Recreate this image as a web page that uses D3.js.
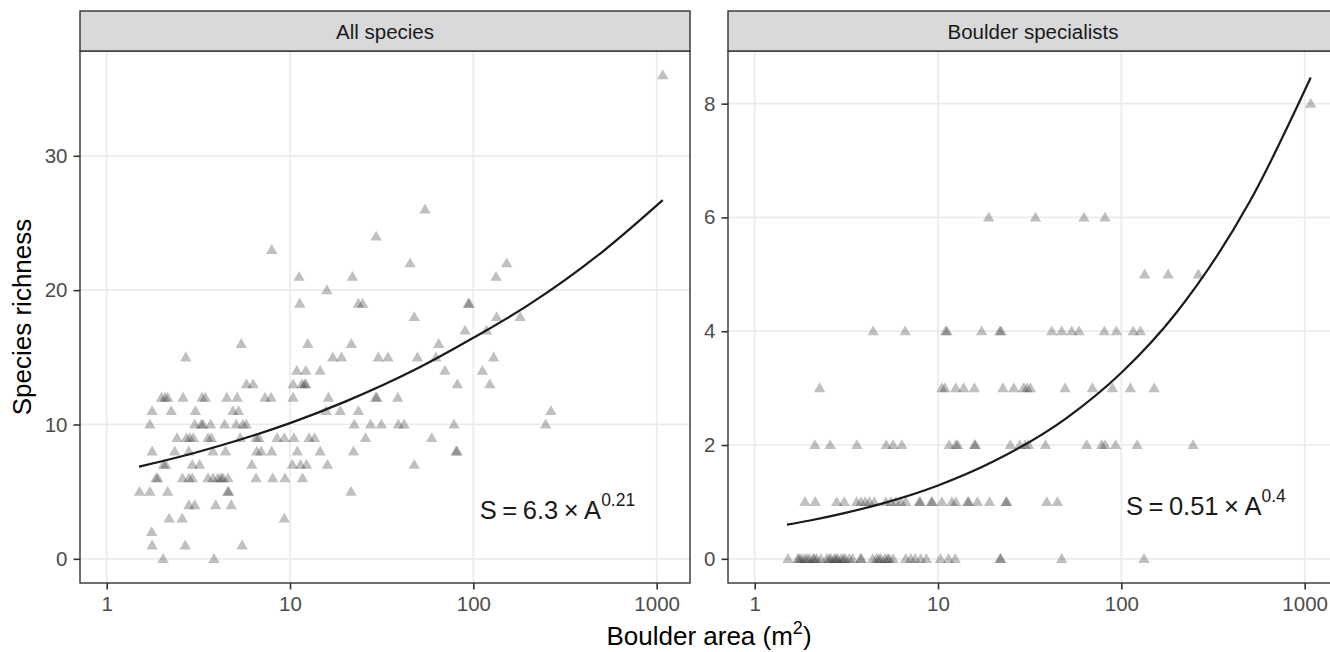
<!DOCTYPE html>
<html>
<head>
<meta charset="utf-8">
<script src="https://cdn.jsdelivr.net/npm/d3@7"></script>
<style>
  html, body { margin: 0; padding: 0; background: #fff; }
  svg { display: block; font-family: "Liberation Sans", Arial, Helvetica, sans-serif; }
</style>
</head>
<body>
<svg id="chart" width="1330" height="652"></svg>
<script>
// ---------------- data ----------------
const panelTitles = ["All species", "Boulder specialists"];
const xTickValues = [1, 10, 100, 1000];
const yTicksAll = [0, 10, 20, 30];
const yTicksSpec = [0, 2, 4, 6, 8];

// [boulder area m2, species richness]
const allSpecies = [
  [1079,36],[54.5,26],[29.5,24],[7.95,23],
  [45.2,22],[152,22],
  [11.2,21],[21.9,21],[133,21],
  [15.9,20],
  [11.3,19],[23.6,19],[24.9,19],[93.9,19],[95,19],
  [47.6,18],[134,18],[180,18],
  [90.1,17],[118,17],
  [5.42,16],[12.5,16],[21.6,16],[64.7,16],
  [2.70,15],[17.1,15],[19.1,15],[30.3,15],[34.2,15],[49.6,15],[62.5,15],[129,15],
  [10.9,14],[12.2,14],[14.6,14],[70.0,14],[112,14],
  [5.79,13],[6.29,13],[10.4,13],[11.6,13],[12.0,13],[12.2,13],[81.8,13],[123,13],
  [1.99,12],[2.08,12],[2.15,12],[2.61,12],[3.31,12],[3.45,12],[4.52,12],[5.15,12],[7.31,12],[7.88,12],[10.4,12],[16.2,12],[29.3,12],[29.8,12],[38.7,12],
  [1.77,11],[2.25,11],[3.05,11],[4.88,11],[5.24,11],[15.7,11],[18.8,11],[23.6,11],[265,11],
  [1.72,10],[3.02,10],[3.28,10],[3.35,10],[3.69,10],[4.40,10],[5.09,10],[5.53,10],[5.77,10],[22.4,10],[27.5,10],[31.5,10],[39.0,10],[41.9,10],[78.5,10],[248,10],
  [2.42,9],[2.72,9],[2.84,9],[2.97,9],[3.57,9],[3.72,9],[5.35,9],[6.53,9],[6.76,9],[8.50,9],[9.31,9],[10.5,9],[12.7,9],[13.6,9],[25.8,9],[59.3,9],
  [1.77,8],[2.35,8],[2.80,8],[3.80,8],[4.45,8],[6.59,8],[6.96,8],[7.95,8],[10.96,8],[14.6,8],[22.2,8],[80.5,8],[81.5,8],
  [2.04,7],[2.10,7],[2.93,7],[3.21,7],[6.19,7],[10.3,7],[11.4,7],[12.3,7],[16.0,7],[47.6,7],
  [1.86,6],[1.90,6],[2.59,6],[2.81,6],[2.93,6],[3.57,6],[3.80,6],[4.04,6],[4.20,6],[4.31,6],[4.58,6],[6.53,6],[8.05,6],[9.39,6],[11.7,6],
  [1.51,5],[1.72,5],[2.15,5],[4.58,5],[4.62,5],[21.5,5],
  [2.81,4],[3.02,4],[3.93,4],[4.78,4],
  [2.19,3],[2.58,3],[9.31,3],
  [1.76,2],
  [1.77,1],[2.68,1],[5.48,1],
  [2.03,0],[3.85,0]
];

const boulderSpecialists = [
  [1079,8],
  [18.9,6],[34.0,6],[62.5,6],[81.5,6],
  [134,5],[180,5],[263,5],
  [4.43,4],[6.62,4],[11.0,4],[11.2,4],[17.3,4],[21.7,4],[22.1,4],[41.7,4],[47.3,4],[53.6,4],[58.8,4],[80.8,4],[93.9,4],[116,4],[127,4],
  [2.26,3],[10.5,3],[10.9,3],[12.5,3],[13.8,3],[15.8,3],[22.6,3],[25.9,3],[29.3,3],[30.6,3],[31.9,3],[49.3,3],[69.5,3],[89.3,3],[112,3],[151,3],
  [2.13,2],[2.58,2],[3.61,2],[5.22,2],[5.69,2],[6.35,2],[11.5,2],[12.5,2],[12.8,2],[15.8,2],[16.0,2],[24.8,2],[27.9,2],[29.9,2],[31.2,2],[38.6,2],[64.7,2],[78.1,2],[81.5,2],[93.1,2],[122,2],[246,2],
  [1.88,1],[2.14,1],[2.80,1],[3.08,1],[3.60,1],[3.80,1],[4.01,1],[4.22,1],[4.49,1],[5.20,1],[5.53,1],[5.89,1],[6.27,1],[6.67,1],[7.9,1],[8.0,1],[9.2,1],[9.3,1],[10.5,1],[11.9,1],[12.5,1],[14.5,1],[14.7,1],[16.4,1],[19.1,1],[23.5,1],[23.7,1],[39.2,1],[44.8,1],
  [1.52,0],[1.72,0],[1.75,0],[1.80,0],[1.87,0],[1.93,0],[1.99,0],[2.08,0],[2.12,0],[2.18,0],[2.30,0],[2.47,0],[2.55,0],[2.61,0],[2.72,0],[2.78,0],[2.84,0],[2.96,0],[3.05,0],[3.12,0],[3.28,0],[3.42,0],[3.78,0],[3.82,0],[4.40,0],[4.62,0],[4.75,0],[4.88,0],[5.13,0],[5.30,0],[5.42,0],[5.69,0],[6.67,0],[7.10,0],[7.50,0],[8.05,0],[8.64,0],[10.3,0],[11.4,0],[12.4,0],[21.8,0],[22.0,0],[47.3,0],[133,0]
];

// fitted curves
const curveArea = [1.5, 2, 3, 5, 10, 20, 50, 100, 200, 500, 1079];
const curveAll  = [6.86, 7.26, 7.88, 8.75, 10.1, 11.7, 14.2, 16.45, 18.9, 22.8, 26.7];
const curveSpec = [0.60, 0.673, 0.794, 0.975, 1.29, 1.71, 2.47, 3.27, 4.33, 6.27, 8.46];

const eqAll  = { coef: "6.3",  exp: "0.21" };
const eqSpec = { coef: "0.51", exp: "0.4" };

// ---------------- layout ----------------
const svg = d3.select("#chart");
svg.append("rect").attr("width", 1330).attr("height", 652).attr("fill", "#fff");

const stripTop = 11, panelTop = 51, panelBottom = 583;
const panels = [
  { title: panelTitles[0], data: allSpecies, curve: curveAll, yTicks: yTicksAll,
    yDomain: [-1.8, 37.8], x0: 80, x1: 690, eq: eqAll, eqX: 108.5, eqY: 2.95 },
  { title: panelTitles[1], data: boulderSpecialists, curve: curveSpec, yTicks: yTicksSpec,
    yDomain: [-0.425, 8.925], x0: 728, x1: 1338, eq: eqSpec, eqX: 106, eqY: 0.77 }
];

const xLogMin = -0.1456, xLogMax = 3.1818;
const tickColor = "#333333", labelColor = "#4D4D4D";
const tickFont = 20.5, titleFont = 26, eqFont = 25.5;
const tri = d3.symbol().type(d3.symbolTriangle).size(56);

panels.forEach(p => {
  const x = d3.scaleLog().domain([Math.pow(10, xLogMin), Math.pow(10, xLogMax)]).range([p.x0, p.x1]);
  const y = d3.scaleLinear().domain(p.yDomain).range([panelBottom, panelTop]);
  const g = svg.append("g");

  // panel background + grid
  g.append("rect").attr("x", p.x0).attr("y", panelTop).attr("width", p.x1 - p.x0)
    .attr("height", panelBottom - panelTop).attr("fill", "#fff");
  g.selectAll(".gx").data(xTickValues).enter().append("line")
    .attr("x1", d => x(d)).attr("x2", d => x(d)).attr("y1", panelTop).attr("y2", panelBottom)
    .attr("stroke", "#EBEBEB").attr("stroke-width", 1.7);
  g.selectAll(".gy").data(p.yTicks).enter().append("line")
    .attr("x1", p.x0).attr("x2", p.x1).attr("y1", d => y(d)).attr("y2", d => y(d))
    .attr("stroke", "#EBEBEB").attr("stroke-width", 1.7);

  // points
  g.selectAll(".pt").data(p.data).enter().append("path")
    .attr("d", tri)
    .attr("transform", d => `translate(${x(d[0])},${y(d[1]) + 0.8})`)
    .attr("fill", "#1e1e24").attr("fill-opacity", 0.28);

  // fitted curve
  const line = d3.line().x(d => x(d[0])).y(d => y(d[1])).curve(d3.curveMonotoneX);
  g.append("path").datum(curveArea.map((a, i) => [a, p.curve[i]]))
    .attr("d", line).attr("fill", "none").attr("stroke", "#1a1a1a").attr("stroke-width", 2.2);

  // equation
  const t = g.append("text").attr("x", x(p.eqX)).attr("y", y(p.eqY))
    .attr("font-size", eqFont).attr("fill", "#1a1a1a");
  t.append("tspan").text("S");
  t.append("tspan").attr("dx", 5.5).text("=");
  t.append("tspan").attr("dx", 5.5).text(p.eq.coef);
  t.append("tspan").attr("dx", 5.5).text("\u00D7");
  t.append("tspan").attr("dx", 5.5).text("A");
  t.append("tspan").attr("dy", -13).attr("font-size", 17.5).text(p.eq.exp);

  // panel border
  g.append("rect").attr("x", p.x0).attr("y", panelTop).attr("width", p.x1 - p.x0)
    .attr("height", panelBottom - panelTop).attr("fill", "none")
    .attr("stroke", tickColor).attr("stroke-width", 1.4);

  // strip
  g.append("rect").attr("x", p.x0).attr("y", stripTop).attr("width", p.x1 - p.x0)
    .attr("height", panelTop - stripTop).attr("fill", "#D9D9DB")
    .attr("stroke", tickColor).attr("stroke-width", 1.4);
  g.append("text").attr("x", (p.x0 + p.x1) / 2).attr("y", 38.5).attr("text-anchor", "middle")
    .attr("font-size", tickFont).attr("fill", "#1A1A1A").text(p.title);

  // axes
  const ax = g.append("g").attr("transform", `translate(0,${panelBottom})`)
    .call(d3.axisBottom(x).tickValues(xTickValues).tickFormat(d3.format("d")).tickSize(6.5).tickPadding(7));
  const ay = g.append("g").attr("transform", `translate(${p.x0},0)`)
    .call(d3.axisLeft(y).tickValues(p.yTicks).tickSize(6.5).tickPadding(6));
  [ax, ay].forEach(a => {
    a.select(".domain").remove();
    a.selectAll(".tick line").attr("stroke", tickColor).attr("stroke-width", 1.6);
    a.selectAll(".tick text").attr("fill", labelColor).attr("font-size", tickFont)
      .attr("font-family", "'Liberation Sans', Arial, sans-serif");
  });
});

// axis titles
svg.append("text").attr("transform", "translate(31,317) rotate(-90)")
  .attr("text-anchor", "middle").attr("font-size", titleFont).attr("fill", "#000")
  .text("Species richness");
const xt = svg.append("text").attr("x", 709).attr("y", 645).attr("text-anchor", "middle")
  .attr("font-size", titleFont).attr("fill", "#000");
xt.append("tspan").text("Boulder area (m");
xt.append("tspan").attr("dy", -11).attr("font-size", 18).text("2");
xt.append("tspan").attr("dy", 11).text(")");
</script>
</body>
</html>
